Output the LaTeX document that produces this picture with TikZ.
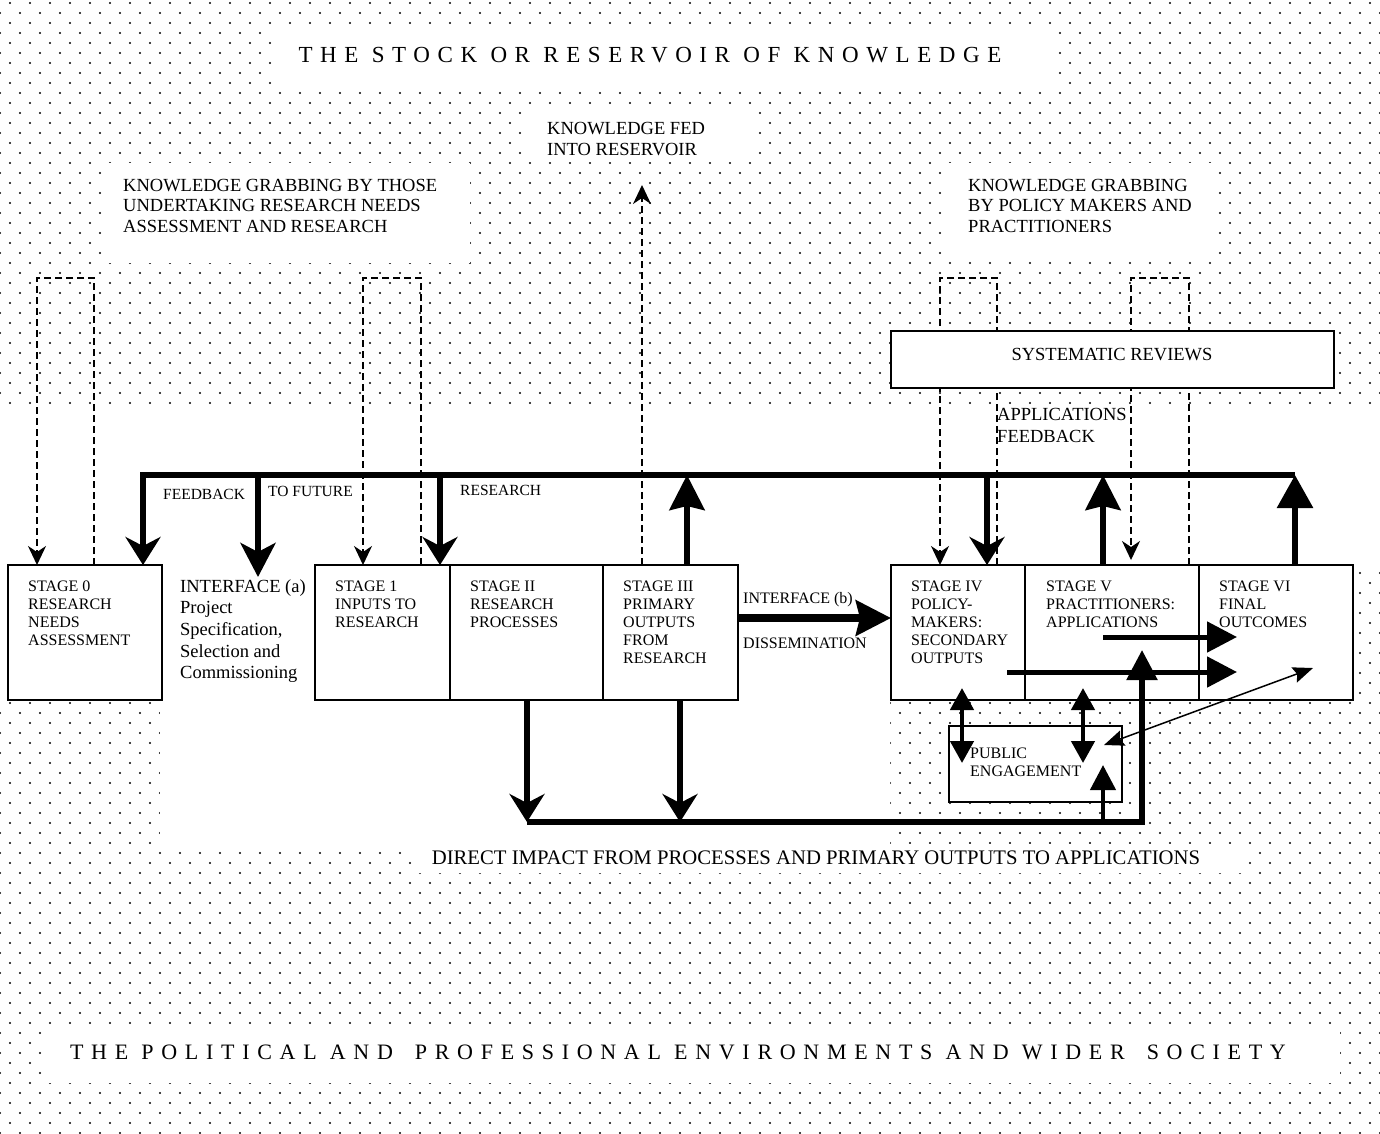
\documentclass[tikz,border=0pt]{standalone}
\usepackage{fontspec}
\setmainfont{Liberation Serif}
\newfontfamily\spacedfont[LetterSpace=35]{Liberation Serif}
\newfontfamily\spacedtopfont[LetterSpace=33]{Liberation Serif}
\usetikzlibrary{arrows.meta,patterns}
\pgfdeclarepatternformonly{bgdots}{\pgfqpoint{-1.5pt}{-1.5pt}}{\pgfqpoint{11.5pt}{11.5pt}}{\pgfqpoint{20pt}{20pt}}{%
  \pgfpathcircle{\pgfqpoint{0pt}{0pt}}{1.15pt}%
  \pgfpathcircle{\pgfqpoint{10pt}{10pt}}{1.15pt}%
  \pgfusepath{fill}}
\tikzset{
  boxst/.style={draw, line width=1.6pt, fill=white, rectangle, anchor=north west, inner sep=0pt, outer sep=0pt},
  stagetxt/.style={anchor=north west, inner sep=0pt, align=left, font=\fontsize{16}{18}\selectfont},
  bigtxt/.style={anchor=north west, inner sep=0pt, align=left, font=\fontsize{18.5}{20.5}\selectfont},
  smalltxt/.style={anchor=north west, inner sep=0pt, align=left, font=\fontsize{15.5}{18}\selectfont},
  heavyline/.style={line width=6pt},
  dashloop/.style={line width=1.3pt, dash pattern=on 7pt off 4pt, -{Stealth[length=19pt,width=18pt,inset=6pt]}},
  downhead/.style={-{Stealth[length=28pt,width=35pt,inset=9pt]}},
  uphead/.style={-{Stealth[length=35pt,width=35pt,inset=4pt]}},
  trihead/.style={-{Triangle[length=33pt,width=35pt]}},
}
\begin{document}
\begin{tikzpicture}[x=1pt,y=-1pt]
\useasboundingbox (0,0) rectangle (1380,1133);
% dotted background with white cut-outs
\fill[pattern=bgdots, pattern color=black] (0,0) rectangle (1380,1133);
\fill[white] (277,27) rectangle (1052,88);
\fill[white] (523,108) rectangle (758,162);
\fill[white] (103,163) rectangle (470,263);
\fill[white] (948,163) rectangle (1218,258);
\fill[white] (0,405) -- (1380,405) -- (1380,568) -- (1353,568) -- (1353,700)
  -- (890,700) -- (890,844) -- (1248,844) -- (1248,873) -- (412,873) -- (412,846)
  -- (160,846) -- (160,700) -- (0,700) -- cycle;
\fill[white] (42,1025) rectangle (1340,1083);

% titles and labels
\node[font=\spacedtopfont\fontsize{23}{27}\selectfont, inner sep=0pt] (ttop) at (650,55) {THE STOCK OR RESERVOIR OF KNOWLEDGE};
\node[font=\spacedfont\fontsize{22}{26}\selectfont, inner sep=0pt] (tbot) at (678,1052) {THE POLITICAL AND\hspace{0.4em} PROFESSIONAL ENVIRONMENTS AND WIDER\hspace{0.4em} SOCIETY};
\node[bigtxt] (gl) at (123,179) {KNOWLEDGE GRABBING BY THOSE\\UNDERTAKING RESEARCH NEEDS\\ASSESSMENT AND RESEARCH};
\node[bigtxt] (gr) at (968,179) {KNOWLEDGE GRABBING\\BY POLICY MAKERS AND\\PRACTITIONERS};
\node[bigtxt, font=\fontsize{18.5}{21}\selectfont] (kfed) at (547,122) {KNOWLEDGE FED\\INTO RESERVOIR};
\coordinate (kfedtip) at (642,185);

% stage boxes
\node[boxst, minimum width=154pt, minimum height=135pt] (s0) at (8,565) {};
\node[boxst, minimum width=135pt, minimum height=135pt] (s1) at (315,565) {};
\node[boxst, minimum width=153pt, minimum height=135pt] (s2) at (450,565) {};
\node[boxst, minimum width=135pt, minimum height=135pt] (s3) at (603,565) {};
\node[boxst, minimum width=134pt, minimum height=135pt] (s4) at (891,565) {};
\node[boxst, minimum width=174pt, minimum height=135pt] (s5) at (1025,565) {};
\node[boxst, minimum width=154pt, minimum height=135pt] (s6) at (1199,565) {};

% dashed knowledge-grabbing loops
\draw[dashloop] (94,0 |- s0.north) -- (94,278) -- (37,278) -- (37,0 |- s0.north);
\draw[dashloop] (421,0 |- s1.north) -- (421,278) -- (363,278) -- (363,0 |- s1.north);
\draw[dashloop] (642,0 |- s3.north) -- (kfedtip);
\draw[dashloop] (997,0 |- s4.north) -- (997,278) -- (940,278) -- (940,0 |- s4.north);
\draw[dashloop] (1189,0 |- s5.north) -- (1189,278) -- (1131,278) -- (1131,560);

% systematic reviews and public engagement
\node[boxst, minimum width=443pt, minimum height=57pt] (sr) at (891,331) {};
\node[font=\fontsize{18.5}{21}\selectfont, inner sep=0pt] (srt) at (1112,355) {SYSTEMATIC REVIEWS};
\node[bigtxt, font=\fontsize{18.5}{22.5}\selectfont] (af) at (997,408) {APPLICATIONS\\FEEDBACK};
\node[boxst, minimum width=173pt, minimum height=76pt] (pe) at (949,726) {};

% stage texts
\node[stagetxt] (s0t) at (28,581) {STAGE 0\\RESEARCH\\NEEDS\\ASSESSMENT};
\node[anchor=north west, inner sep=0pt, align=left, font=\fontsize{18.5}{21.7}\selectfont] (ia) at (180,579) {INTERFACE (a)\\Project\\Specification,\\Selection and\\Commissioning};
\node[stagetxt] (s1t) at (335,581) {STAGE 1\\INPUTS TO\\RESEARCH};
\node[stagetxt] (s2t) at (470,581) {STAGE II\\RESEARCH\\PROCESSES};
\node[stagetxt] (s3t) at (623,581) {STAGE III\\PRIMARY\\OUTPUTS\\FROM\\RESEARCH};
\node[stagetxt] (s4t) at (911,581) {STAGE IV\\POLICY-\\MAKERS:\\SECONDARY\\OUTPUTS};
\node[stagetxt] (s5t) at (1046,581) {STAGE V\\PRACTITIONERS:\\APPLICATIONS};
\node[stagetxt] (s6t) at (1219,581) {STAGE VI\\FINAL\\OUTCOMES};
\node[stagetxt, anchor=base west] (ibt) at (743,603) {INTERFACE (b)};
\node[stagetxt, anchor=base west] (dis) at (743,648) {DISSEMINATION};
\node[stagetxt] (pet) at (970,748) {PUBLIC\\ENGAGEMENT};
\node[font=\fontsize{20.7}{24}\selectfont, inner sep=0pt] (direct) at (816,858) {DIRECT IMPACT FROM PROCESSES AND PRIMARY OUTPUTS TO APPLICATIONS};

% feedback labels
\node[smalltxt] (fbt) at (163,489) {FEEDBACK};
\node[smalltxt] (tft) at (268,486) {TO FUTURE};
\node[smalltxt] (rst) at (460,485) {RESEARCH};

% feedback line and its arrows
\coordinate (fbL) at (143,475);
\coordinate (fbR) at (1295,475);
\coordinate (iatop) at (258,577);
\draw[heavyline, downhead] (fbR) -- (fbL) -- (fbL |- s0.north);
\draw[heavyline, -{Stealth[length=34pt,width=35pt,inset=9pt]}] (258,475) -- (iatop);
\draw[heavyline, downhead] (440,475) -- (440,0 |- s1.north);
\draw[heavyline, uphead] (687,0 |- s3.north) -- (687,475);
\draw[heavyline, downhead] (987,475) -- (987,0 |- s4.north);
\draw[heavyline, uphead] (1103,0 |- s5.north) -- (1103,475);
\draw[heavyline, trihead] (fbR |- s6.north) -- (fbR);

% interface (b)
\draw[line width=7.5pt, -{Stealth[length=35pt,width=35pt,inset=4pt]}] (s3.east |- 0,618) -- (s4.west |- 0,618);

% direct impact loop
\coordinate (bL) at (527,822);
\coordinate (bR) at (1142,822);
\draw[heavyline, downhead] (bL |- s2.south) -- (bL);
\draw[heavyline, downhead] (680,0 |- s3.south) -- (680,822);
\draw[line width=5.5pt, -{Triangle[length=30pt,width=30pt]}] (bL) -- (bR) -- (1142,650);
\draw[line width=4.3pt, -{Triangle[length=25pt,width=25pt]}] (1103,822) -- (1103,765);

% arrows to final outcomes
\draw[line width=5pt, -{Triangle[length=30pt,width=30pt]}] (1103,637) -- (1237,637);
\draw[line width=5pt, -{Triangle[length=30pt,width=30pt]}] (1007,672) -- (1237,672);

% public engagement links
\draw[line width=4.5pt, {Triangle[length=22pt,width=23pt]}-{Triangle[length=22pt,width=23pt]}] (962,688) -- (962,763);
\draw[line width=4.5pt, {Triangle[length=22pt,width=23pt]}-{Triangle[length=22pt,width=23pt]}] (1083,688) -- (1083,763);
\draw[line width=1.5pt, {Stealth[length=20pt,width=16pt,inset=3pt]}-{Stealth[length=20pt,width=16pt,inset=3pt]}] (1104,745) -- (1313,668);
\end{tikzpicture}
\end{document}
